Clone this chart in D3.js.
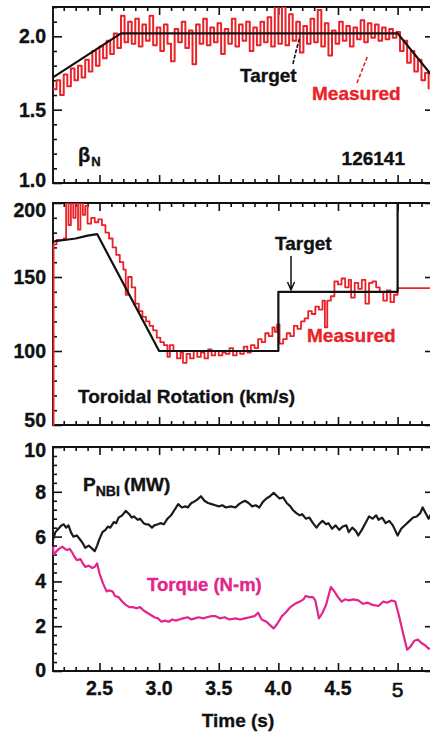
<!DOCTYPE html>
<html><head><meta charset="utf-8">
<script src="https://cdn.jsdelivr.net/npm/d3@7"></script>
<style>
body{margin:0;background:#fff}
text{font-family:"Liberation Sans",Arial,Helvetica,sans-serif;font-weight:bold;fill:#111;stroke:#111;stroke-width:0.35px}
text.red{fill:#ea2228;stroke:#ea2228}
text.mag{fill:#e4238c;stroke:#e4238c}
</style>
</head><body><svg id="c" width="430" height="734"></svg>
<script>
// ---------------- DATA ----------------
const timeTicks = [2.5, 3.0, 3.5, 4.0, 4.5, 5];
const timeLabels = ["2.5", "3.0", "3.5", "4.0", "4.5", "5"];
const betaTicks = [1.0, 1.5, 2.0];
const betaLabels = ["1.0", "1.5", "2.0"];
const rotTicks = [50, 100, 150, 200];
const rotLabels = ["50", "100", "150", "200"];
const powTicks = [0, 2, 4, 6, 8, 10];
const powLabels = ["0", "2", "4", "6", "8", "10"];

// Panel 1: normalized beta
const betaTargetT = [2.11, 2.68, 5.0, 5.28];
const betaTargetV = [1.72, 2.02, 2.02, 1.74];
const betaT = [2.11,2.14,2.17,2.20,2.23,2.26,2.29,2.32,2.35,2.38,2.41,2.44,2.47,2.50,2.53,2.56,2.59,2.62,2.65,2.68,
  2.71,2.74,2.77,2.80,2.83,2.86,2.89,2.92,2.95,2.98,3.01,3.04,3.07,3.10,3.13,3.16,3.19,3.22,3.25,3.28,
  3.31,3.34,3.37,3.40,3.43,3.46,3.49,3.52,3.55,3.58,3.61,3.64,3.67,3.70,3.73,3.76,3.79,3.82,3.85,3.88,
  3.91,3.94,3.97,4.00,4.03,4.06,4.09,4.12,4.15,4.18,4.21,4.24,4.27,4.30,4.33,4.36,4.39,4.42,4.45,4.48,
  4.51,4.54,4.57,4.60,4.63,4.66,4.69,4.72,4.75,4.78,4.81,4.84,4.87,4.90,4.93,4.96,4.99,5.02,5.05,5.08,
  5.11,5.14,5.17,5.20,5.23,5.26];
const betaM = [1.64,1.70,1.60,1.74,1.66,1.78,1.70,1.80,1.72,1.84,1.76,1.90,1.80,1.93,1.85,1.97,1.88,2.02,1.92,2.14,
  1.96,2.10,1.95,2.12,1.93,2.08,1.97,2.14,1.94,2.06,1.90,2.08,1.95,1.83,2.05,1.96,2.10,1.92,2.04,1.81,
  2.08,1.95,2.12,1.94,2.06,1.96,2.09,1.88,2.05,1.95,2.12,1.93,2.08,1.97,2.10,1.90,2.06,1.94,2.10,1.96,
  2.13,1.93,2.22,1.95,2.20,1.94,2.15,1.97,2.10,1.89,2.07,1.95,2.12,1.96,2.18,1.93,2.09,1.87,2.04,1.95,
  2.10,1.97,2.07,1.93,2.06,1.98,2.11,1.96,2.09,1.99,2.08,1.97,2.06,1.98,2.05,1.99,2.03,1.90,1.97,1.82,
  1.90,1.76,1.84,1.70,1.75,1.64];

// Panel 2: toroidal rotation (km/s)
const rotTargetT = [2.11, 2.30, 2.40, 2.48, 3.0, 4.0, 4.0, 5.0, 5.0, 5.28];
const rotTargetV = [174, 176, 178, 179, 100, 100, 140, 140, 200, 200];
const rotT = [2.11,2.115,2.14,2.17,2.20,2.22,2.24,2.26,2.28,2.30,2.32,2.34,2.36,2.38,2.40,2.43,2.46,2.49,2.52,2.55,
  2.58,2.61,2.64,2.67,2.70,2.72,2.74,2.77,2.80,2.83,2.86,2.89,2.92,2.95,2.98,3.01,3.04,3.07,3.09,3.12,
  3.15,3.18,3.20,3.23,3.26,3.29,3.32,3.35,3.38,3.41,3.44,3.47,3.50,3.53,3.56,3.59,3.62,3.65,3.68,3.71,
  3.74,3.77,3.80,3.83,3.86,3.89,3.92,3.95,3.97,3.99,4.01,4.04,4.07,4.10,4.13,4.16,4.19,4.22,4.25,4.28,
  4.31,4.34,4.37,4.39,4.41,4.44,4.47,4.50,4.53,4.56,4.59,4.61,4.64,4.67,4.70,4.73,4.76,4.79,4.82,4.85,
  4.88,4.91,4.94,4.97,5.00,5.28];
const rotM = [50,172,175,175,176,200,185,205,190,200,182,205,192,198,186,190,187,189,185,180,
  176,170,165,160,155,138,150,143,132,127,123,120,117,114,109,106,104,96,104,100,
  95,99,92,98,95,100,96,99,95,101,97,100,97,99,98,102,97,100,98,103,
  99,104,102,108,106,112,110,116,113,118,105,108,112,110,117,115,120,122,127,125,
  130,128,134,116,134,137,147,145,149,143,148,136,146,142,148,132,146,147,143,140,
  134,141,133,138,142.5,142.5];

// Panel 3: NBI power (MW) and torque (N-m)
const pnbiT = [2.11,2.13,2.155,2.18,2.20,2.22,2.24,2.26,2.28,2.31,2.34,2.36,2.38,2.41,2.44,2.46,2.48,2.50,2.525,2.55,
  2.57,2.59,2.62,2.64,2.66,2.69,2.72,2.75,2.77,2.79,2.82,2.84,2.87,2.89,2.91,2.94,2.96,2.99,3.01,3.04,
  3.07,3.10,3.13,3.16,3.19,3.22,3.24,3.27,3.29,3.32,3.35,3.38,3.41,3.44,3.47,3.50,3.53,3.56,3.60,3.64,
  3.67,3.70,3.72,3.75,3.78,3.81,3.84,3.87,3.90,3.93,3.96,3.99,4.01,4.04,4.07,4.10,4.12,4.15,4.18,4.20,
  4.23,4.26,4.29,4.32,4.34,4.37,4.40,4.42,4.45,4.48,4.51,4.54,4.57,4.59,4.62,4.65,4.67,4.70,4.73,4.76,
  4.79,4.82,4.84,4.87,4.90,4.93,4.96,5.00,5.03,5.07,5.10,5.13,5.16,5.19,5.21,5.24,5.26,5.28];
const pnbiV = [5.85,6.2,6.35,6.5,6.55,6.4,6.5,6.2,6.0,6.05,5.85,5.7,5.5,5.6,5.45,5.35,5.6,5.9,6.2,6.3,
  6.45,6.4,6.65,6.6,6.85,6.95,7.15,7.0,6.85,6.9,6.75,6.8,6.6,6.55,6.55,6.4,6.5,6.55,6.6,6.55,
  6.8,6.95,7.2,7.45,7.3,7.35,7.3,7.5,7.55,7.65,7.8,7.6,7.5,7.45,7.4,7.35,7.4,7.3,7.35,7.3,
  7.45,7.55,7.6,7.5,7.35,7.4,7.3,7.55,7.7,7.8,7.95,7.8,7.7,7.75,7.5,7.35,7.2,7.05,6.95,7.0,
  6.8,6.85,6.6,6.4,6.55,6.7,6.55,6.6,6.35,6.5,6.3,6.45,6.5,6.2,6.4,6.25,6.05,6.3,6.6,6.9,
  6.8,6.95,6.75,6.85,6.6,6.7,6.5,6.05,6.35,6.55,6.7,6.85,6.9,7.05,7.3,7.0,6.8,7.0];
const torqT = [2.11,2.115,2.14,2.16,2.19,2.21,2.23,2.25,2.27,2.29,2.31,2.34,2.36,2.38,2.41,2.44,2.46,2.48,2.50,2.53,
  2.56,2.58,2.61,2.63,2.66,2.69,2.72,2.75,2.78,2.81,2.84,2.87,2.90,2.93,2.96,2.99,3.02,3.05,3.08,3.11,
  3.14,3.17,3.20,3.24,3.27,3.30,3.33,3.37,3.40,3.44,3.47,3.51,3.55,3.59,3.64,3.68,3.72,3.76,3.80,3.83,
  3.86,3.90,3.93,3.96,3.99,4.03,4.06,4.10,4.14,4.18,4.21,4.23,4.26,4.29,4.31,4.34,4.37,4.40,4.44,4.47,
  4.50,4.53,4.56,4.59,4.63,4.67,4.71,4.75,4.79,4.84,4.88,4.91,4.95,4.98,5.01,5.05,5.08,5.11,5.14,5.17,
  5.20,5.23,5.26,5.28];
const torqV = [5.55,5.2,5.35,5.45,5.55,5.45,5.4,5.45,5.3,5.1,4.95,5.0,4.8,4.65,4.7,4.6,4.65,4.8,4.35,3.9,
  3.55,3.6,3.55,3.35,3.3,3.1,2.95,2.85,2.85,2.8,2.85,2.7,2.6,2.5,2.4,2.35,2.2,2.25,2.2,2.3,
  2.25,2.3,2.35,2.4,2.3,2.35,2.4,2.35,2.4,2.45,2.45,2.35,2.4,2.3,2.35,2.3,2.35,2.4,2.45,2.6,
  2.3,2.2,2.05,1.9,2.1,2.45,2.6,2.85,3.0,3.1,3.2,3.35,3.3,3.3,3.15,2.35,2.6,2.95,3.75,3.55,
  3.3,3.1,3.2,3.15,3.2,3.15,3.0,3.05,2.95,2.9,3.1,3.05,3.15,3.1,2.5,1.6,0.95,1.1,1.35,1.4,
  1.25,1.15,1.0,1.0];

// ---------------- DRAWING ----------------
const RED = "#ea2228", MAG = "#e4238c";
const svg = d3.select("#c");
const L = 53, R = 431;
const x = d3.scaleLinear().domain([2.11, 5.28]).range([L, R]);

const panels = [
  {id:"p1", top:7, bottom:183, domain:[1.0, 2.2], ticks:betaTicks, labels:betaLabels, minor:0.1, adj:[-3,0,0,5]},
  {id:"p2", top:203, bottom:425, domain:[50, 200], ticks:rotTicks, labels:rotLabels, minor:10, adj:[-5,0,0,7]},
  {id:"p3", top:447, bottom:671, domain:[0, 10], ticks:powTicks, labels:powLabels, minor:0.4, adj:[-1,0,0,0,0,3]}
];
panels.forEach(p => {
  p.y = d3.scaleLinear().domain(p.domain).range([p.bottom, p.top]);
  svg.append("clipPath").attr("id", "clip-" + p.id)
    .append("rect").attr("x", L - 1.5).attr("y", p.top).attr("width", R - L + 3).attr("height", p.bottom - p.top + 1);
});

function ticksFor(p) {
  const g = svg.append("g");
  const minorsY = d3.range(p.domain[0], p.domain[1] + 1e-9, p.minor).filter(v => !p.ticks.some(t => Math.abs(t - v) < 1e-6));
  const minorsX = d3.range(2.2, 5.28, 0.1).filter(v => !timeTicks.some(t => Math.abs(t - v) < 1e-6));
  const clean = s => s.call(a => a.select(".domain").remove()).selectAll("line").attr("stroke", "#111").attr("stroke-width", 1.6);
  g.append("g").attr("transform", `translate(${L},0)`).call(d3.axisLeft(p.y).tickValues(minorsY).tickSize(-4).tickFormat("")).call(clean);
  g.append("g").attr("transform", `translate(${L},0)`).call(d3.axisLeft(p.y).tickValues(p.ticks).tickSize(-9).tickFormat("")).call(clean);
  g.append("g").attr("transform", `translate(${R},0)`).call(d3.axisRight(p.y).tickValues(p.ticks).tickSize(-6).tickFormat("")).call(clean);
  g.append("g").attr("transform", `translate(0,${p.top})`).call(d3.axisTop(x).tickValues(minorsX).tickSize(-4).tickFormat("")).call(clean);
  g.append("g").attr("transform", `translate(0,${p.top})`).call(d3.axisTop(x).tickValues(timeTicks).tickSize(-8).tickFormat("")).call(clean);
  g.append("g").attr("transform", `translate(0,${p.bottom})`).call(d3.axisBottom(x).tickValues(minorsX).tickSize(-4).tickFormat("")).call(clean);
  g.append("g").attr("transform", `translate(0,${p.bottom})`).call(d3.axisBottom(x).tickValues(timeTicks).tickSize(-8).tickFormat("")).call(clean);
  g.append("path").attr("d", `M${R + 2},${p.top}H${L}V${p.bottom}H${R + 2}`)
    .attr("fill", "none").attr("stroke", "#111").attr("stroke-width", 1.9);
  g.selectAll("text.yl").data(p.ticks).join("text").attr("class", "yl")
    .attr("x", 46).attr("y", (d, i) => p.y(d) + 7 + (p.adj[i] || 0))
    .attr("text-anchor", "end").attr("font-size", 19.5).text((d, i) => p.labels[i]);
}
panels.forEach(ticksFor);

function series(p, T, V, color, width, curve) {
  const pts = T.map((t, i) => [t, V[i]]);
  svg.append("path").datum(pts)
    .attr("clip-path", `url(#clip-${p.id})`)
    .attr("fill", "none").attr("stroke", color).attr("stroke-width", width)
    .attr("stroke-linejoin", "round")
    .attr("d", d3.line().x(d => x(d[0])).y(d => p.y(d[1])).curve(curve || d3.curveLinear));
}

const [P1, P2, P3] = panels;
series(P1, betaT, betaM, RED, 2, d3.curveStepAfter);
series(P1, betaTargetT, betaTargetV, "#111", 2.2);
series(P2, rotT, rotM, RED, 1.8, d3.curveStepAfter);
series(P2, rotTargetT, rotTargetV, "#111", 2.2);
series(P3, pnbiT, pnbiV, "#1a1a1a", 2.2);
series(P3, torqT, torqV, MAG, 2.2);

// ---------- annotations ----------
svg.append("text").attr("x", 240).attr("y", 82).attr("font-size", 19).text("Target");
svg.append("path").attr("d", "M293,64 Q296,50 300,37").attr("fill", "none").attr("stroke", "#111").attr("stroke-width", 1.6).attr("stroke-dasharray", "4,1.5");
svg.append("text").attr("class", "red").attr("x", 312).attr("y", 100).attr("font-size", 19).text("Measured");
svg.append("path").attr("d", "M357,83 L368,55").attr("fill", "none").attr("stroke", RED).attr("stroke-width", 1.6).attr("stroke-dasharray", "4,2");
const beta = svg.append("text").attr("x", 78).attr("y", 162).attr("font-size", 20);
beta.append("tspan").text("β");
beta.append("tspan").attr("font-size", 13).attr("dy", 4).attr("dx", 1).text("N");
svg.append("text").attr("x", 405).attr("y", 165).attr("text-anchor", "end").attr("font-size", 19).text("126141");

svg.append("text").attr("x", 275).attr("y", 250).attr("font-size", 19).text("Target");
svg.append("path").attr("d", "M291,256 V289 M287.5,282 L291,290 L294.5,282").attr("fill", "none").attr("stroke", "#111").attr("stroke-width", 1.5);
svg.append("text").attr("class", "red").attr("x", 307).attr("y", 342).attr("font-size", 19).text("Measured");
svg.append("text").attr("x", 78).attr("y", 403).attr("font-size", 19).text("Toroidal Rotation (km/s)");

const pn = svg.append("text").attr("x", 83).attr("y", 491).attr("font-size", 19);
pn.append("tspan").text("P");
pn.append("tspan").attr("font-size", 14).attr("dy", 5).text("NBI");
pn.append("tspan").attr("dy", -5).attr("dx", 4).text("(MW)");
svg.append("text").attr("class", "mag").attr("x", 147).attr("y", 591).attr("font-size", 18.5).text("Torque (N-m)");

svg.selectAll("text.xl").data(timeTicks).join("text").attr("class", "xl")
  .attr("x", d => x(d)).attr("y", (d, i) => i === timeTicks.length - 1 ? 697 : 695)
  .attr("text-anchor", "middle").attr("font-size", (d, i) => i === timeTicks.length - 1 ? 21 : 19.5)
  .style("font-weight", (d, i) => i === timeTicks.length - 1 ? "normal" : "bold")
  .style("stroke-width", (d, i) => i === timeTicks.length - 1 ? "0.6px" : null)
  .text((d, i) => timeLabels[i]);
svg.append("text").attr("x", 238).attr("y", 727).attr("text-anchor", "middle").attr("font-size", 19).text("Time (s)");
</script>
</body></html>
